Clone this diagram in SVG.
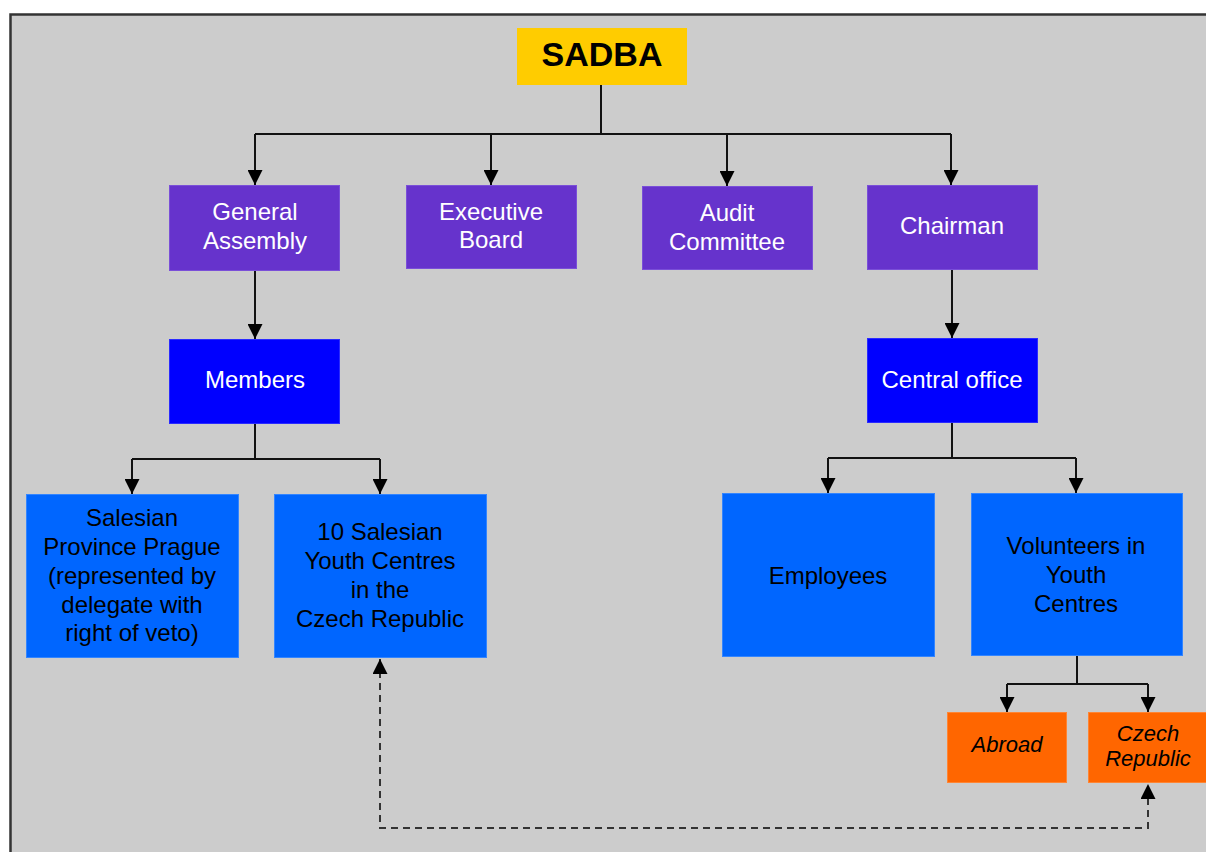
<svg xmlns="http://www.w3.org/2000/svg" width="1206" height="852" viewBox="0 0 1206 852">
<defs>
<marker id="arr" markerUnits="userSpaceOnUse" markerWidth="15" markerHeight="15" refX="15" refY="7.5" orient="auto-start-reverse" viewBox="0 0 15 15">
<path d="M0,0 L15,7.5 L0,15 Z" fill="#000" stroke="none"/>
</marker>
<style>
.box{stroke-width:1}
.purple{fill:#6633cc;stroke:#7a4fd8}
.dblue{fill:#0000ff;stroke:#2a2aff}
.lblue{fill:#0066ff;stroke:#3385ff}
.orange{fill:#ff6600;stroke:#ff8533}
.t{font-family:"Liberation Sans",Arial,sans-serif;font-size:24px;text-anchor:middle}
.w{fill:#fff}
.k{fill:#000}
.i{font-style:italic;font-size:22px}
.conn{fill:none;stroke:#111;stroke-width:2}
.dash{fill:none;stroke:#333;stroke-width:2;stroke-dasharray:7 5}
</style>
</defs>
<rect x="0" y="0" width="1206" height="852" fill="#fff"/>
<rect x="10.5" y="14.5" width="1230" height="870" fill="#cccccc" stroke="#333" stroke-width="2.5"/>

<g id="connectors">
<path class="conn" d="M601,85 V134"/>
<path class="conn" d="M255,134 H951"/>
<path class="conn" d="M255,134 V185" marker-end="url(#arr)"/>
<path class="conn" d="M491,134 V185" marker-end="url(#arr)"/>
<path class="conn" d="M727,134 V186" marker-end="url(#arr)"/>
<path class="conn" d="M951,134 V185" marker-end="url(#arr)"/>
<path class="conn" d="M255,270 V339" marker-end="url(#arr)"/>
<path class="conn" d="M952,270 V338" marker-end="url(#arr)"/>
<path class="conn" d="M255,424 V459"/>
<path class="conn" d="M132,459 H380"/>
<path class="conn" d="M132,459 V494" marker-end="url(#arr)"/>
<path class="conn" d="M380,459 V494" marker-end="url(#arr)"/>
<path class="conn" d="M952,423 V458"/>
<path class="conn" d="M828,458 H1076"/>
<path class="conn" d="M828,458 V493" marker-end="url(#arr)"/>
<path class="conn" d="M1076,458 V493" marker-end="url(#arr)"/>
<path class="conn" d="M1077,656 V684"/>
<path class="conn" d="M1007,684 H1148"/>
<path class="conn" d="M1007,684 V712" marker-end="url(#arr)"/>
<path class="conn" d="M1148,684 V712" marker-end="url(#arr)"/>
<path class="dash" d="M380,659 V828 H1148 V784" marker-start="url(#arr)" marker-end="url(#arr)"/>
</g>

<g id="sadba">
<rect x="517" y="28" width="170" height="57" fill="#ffcc00"/>
<text class="t k" x="602" y="66" style="font-weight:bold;font-size:34px">SADBA</text>
</g>

<g id="general-assembly">
<rect class="box purple" x="169.5" y="185.5" width="170" height="85"/>
<text class="t w" x="255" y="220">General</text>
<text class="t w" x="255" y="249">Assembly</text>
</g>
<g id="executive-board">
<rect class="box purple" x="406.5" y="185.5" width="170" height="83"/>
<text class="t w" x="491" y="220">Executive</text>
<text class="t w" x="491" y="248">Board</text>
</g>
<g id="audit-committee">
<rect class="box purple" x="642.5" y="186.5" width="170" height="83"/>
<text class="t w" x="727" y="221">Audit</text>
<text class="t w" x="727" y="250">Committee</text>
</g>
<g id="chairman">
<rect class="box purple" x="867.5" y="185.5" width="170" height="84"/>
<text class="t w" x="952" y="234">Chairman</text>
</g>

<g id="members">
<rect class="box dblue" x="169.5" y="339.5" width="170" height="84"/>
<text class="t w" x="255" y="388">Members</text>
</g>
<g id="central-office">
<rect class="box dblue" x="867.5" y="338.5" width="170" height="84"/>
<text class="t w" x="952" y="388">Central office</text>
</g>

<g id="salesian-province">
<rect class="box lblue" x="26.5" y="494.5" width="212" height="163"/>
<text class="t k" x="132" y="526">Salesian</text>
<text class="t k" x="132" y="555">Province Prague</text>
<text class="t k" x="132" y="584">(represented by</text>
<text class="t k" x="132" y="613">delegate with</text>
<text class="t k" x="132" y="641">right of veto)</text>
</g>
<g id="youth-centres">
<rect class="box lblue" x="274.5" y="494.5" width="212" height="163"/>
<text class="t k" x="380" y="540">10 Salesian</text>
<text class="t k" x="380" y="569">Youth Centres</text>
<text class="t k" x="380" y="598">in the</text>
<text class="t k" x="380" y="627">Czech Republic</text>
</g>
<g id="employees">
<rect class="box lblue" x="722.5" y="493.5" width="212" height="163"/>
<text class="t k" x="828" y="584">Employees</text>
</g>
<g id="volunteers">
<rect class="box lblue" x="971.5" y="493.5" width="211" height="162"/>
<text class="t k" x="1076" y="554">Volunteers in</text>
<text class="t k" x="1076" y="583">Youth</text>
<text class="t k" x="1076" y="612">Centres</text>
</g>

<g id="abroad">
<rect class="box orange" x="947.5" y="712.5" width="119" height="70"/>
<text class="t k i" x="1007" y="752">Abroad</text>
</g>
<g id="czech-republic">
<rect class="box orange" x="1088.5" y="712.5" width="130" height="70"/>
<text class="t k i" x="1148" y="741">Czech</text>
<text class="t k i" x="1148" y="766">Republic</text>
</g>
</svg>
